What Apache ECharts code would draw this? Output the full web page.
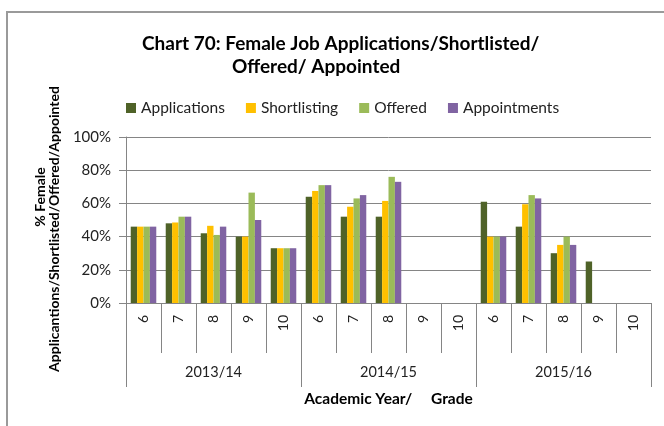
<!DOCTYPE html>
<html>
<head>
<meta charset="utf-8">
<script src="https://cdn.jsdelivr.net/npm/echarts@6/dist/echarts.min.js"></script>
<style>html,body{margin:0;padding:0;background:#fff;}#c{width:664px;height:426px;}</style>
</head>
<body>
<div id="c"></div>
<script>
const grades = ['6','7','8','9','10','6','7','8','9','10','6','7','8','9','10'];
const years = ['2013/14','2014/15','2015/16'];
const yTicks = [0, 20, 40, 60, 80, 100];
const applications = [46, 48, 42, 40, 33, 64, 52, 52, null, null, 61, 46, 30, 25, null];
const shortlisting = [46, 48.5, 46.5, 40, 33, 67.5, 58, 61.5, null, null, 40, 59.5, 35, null, null];
const offered = [46, 52, 41, 66.5, 33, 71, 63, 76, null, null, 40, 65, 40, null, null];
const appointments = [46, 52, 46, 50, 33, 71, 65, 73, null, null, 40, 63, 35, null, null];
const seriesNames = ['Applications', 'Shortlisting', 'Offered', 'Appointments'];
const colors = ['#4F6228', '#FFC000', '#9BBB59', '#8064A2'];

const FONT = 'Lato';
const chart = echarts.init(document.getElementById('c'));
const dataSets = [applications, shortlisting, offered, appointments];
chart.setOption({
  animation: false,
  color: colors,
  textStyle: {fontFamily: FONT},
  title: [
    {text: 'Chart 70: Female Job Applications/Shortlisted/', left: 137, top: 29,
     textStyle: {fontFamily: FONT, fontWeight: 'bold', fontSize: 19, color: '#000'}},
    {text: 'Offered/ Appointed', left: 227, top: 52,
     textStyle: {fontFamily: FONT, fontWeight: 'bold', fontSize: 19, color: '#000'}}
  ],
  legend: {
    data: seriesNames, left: 121, top: 95, icon: 'rect', itemWidth: 10, itemHeight: 10,
    itemGap: 21, textStyle: {fontFamily: FONT, fontSize: 15.5, color: '#222'}
  },
  grid: {left: 126, right: 13, top: 137, bottom: 123},
  xAxis: [
    {type: 'category', data: grades, position: 'bottom',
     axisLine: {show: true, lineStyle: {color: '#858585', width: 1}},
     axisTick: {show: true, interval: 0, length: 50, lineStyle: {color: '#858585'}},
     axisLabel: {interval: 0, rotate: 90, margin: 12, fontSize: 14, color: '#222', fontFamily: FONT}},
    {type: 'category', data: years, position: 'bottom',
     axisLine: {show: false},
     axisTick: {show: true, interval: 0, length: 84, lineStyle: {color: '#858585'}},
     axisLabel: {interval: 0, margin: 62, fontSize: 14.5, color: '#222', fontFamily: FONT},
     name: 'Academic Year/     Grade', nameLocation: 'middle', nameGap: 88,
     nameTextStyle: {fontFamily: FONT, fontWeight: 'bold', fontSize: 15.5, color: '#000'}}
  ],
  yAxis: {
    type: 'value', min: yTicks[0], max: yTicks[yTicks.length - 1], interval: 20,
    axisLine: {show: true, lineStyle: {color: '#858585'}},
    axisTick: {show: true, length: 7, lineStyle: {color: '#858585'}},
    axisLabel: {formatter: '{value}%', margin: 15, fontSize: 15, color: '#222', fontFamily: FONT},
    splitLine: {show: true, lineStyle: {color: '#858585', width: 1}}
  },
  series: seriesNames.map((n, i) => ({
    name: n, type: 'bar', xAxisIndex: 0, data: dataSets[i],
    barGap: '0%', barCategoryGap: '27%',
    itemStyle: {color: colors[i]}
  })),
  graphic: [
    {type: 'polyline', shape: {points: [[7, 440], [7, 12], [680, 12]]},
     style: {stroke: '#9a9a9a', lineWidth: 2, fill: null}, silent: true},
    {type: 'text', x: 40, y: 197, rotation: Math.PI / 2,
     style: {text: '% Female', x: 0, y: 0, align: 'center', verticalAlign: 'middle',
       font: 'bold 14px Lato', fill: '#000'}},
    {type: 'text', x: 54, y: 229, rotation: Math.PI / 2,
     style: {text: 'Applicantions/Shortlisted/Offered/Appointed', x: 0, y: 0, align: 'center', verticalAlign: 'middle',
       font: 'bold 14px Lato', fill: '#000'}}
  ]
});
</script>
</body>
</html>
